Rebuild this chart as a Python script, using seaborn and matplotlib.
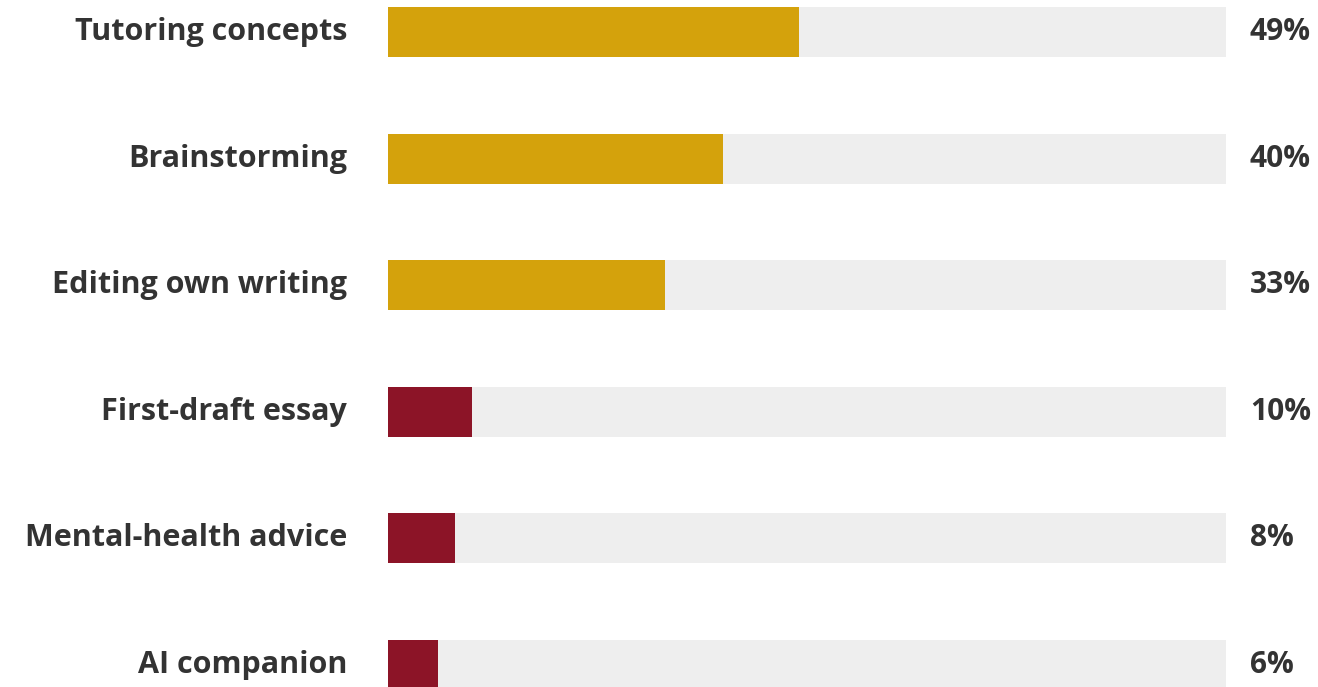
import matplotlib
matplotlib.use("Agg")
import matplotlib.pyplot as plt
import seaborn as sns
import pandas as pd

categories = ["Tutoring concepts", "Brainstorming", "Editing own writing",
              "First-draft essay", "Mental-health advice", "AI companion"]
values = [49, 40, 33, 10, 8, 6]
groups = ["high", "high", "high", "low", "low", "low"]
track_max = [100] * 6

sns.set_theme(style="white")
plt.rcParams['font.family'] = ['Open Sans', 'DejaVu Sans']

df = pd.DataFrame({"cat": categories, "val": values, "grp": groups, "track": track_max})

W, H = 1318, 687
fig = plt.figure(figsize=(W / 100, H / 100), dpi=100)
x0, x1 = 388, 1226
ax = fig.add_axes([x0 / W, 0, (x1 - x0) / W, 1])

sns.barplot(data=df, y="cat", x="track", color="#EEEEEE", saturation=1, width=0.395,
            ax=ax, orient="h", linewidth=0)
sns.barplot(data=df, y="cat", x="val", hue="grp", palette={"high": "#D4A20C", "low": "#8C1427"},
            saturation=1, width=0.395, ax=ax, orient="h", legend=False, dodge=False, linewidth=0)

step = 126.6
ax.set_ylim((H - 32) / step, -32 / step)
ax.set_xlim(0, 100)
ax.set_xlabel("")
ax.set_ylabel("")
ax.set_xticks([])
ax.set_yticks([])
for s in ax.spines.values():
    s.set_visible(False)

for i, (c, v) in enumerate(zip(categories, values)):
    ax.annotate(c, xy=(0, i), xycoords=("axes fraction", "data"), xytext=(-41, 0),
                textcoords="offset pixels", ha="right", va="center",
                fontsize=22, fontweight="bold", color="#333333")
    ax.annotate(f"{v}%", xy=(1, i), xycoords=("axes fraction", "data"), xytext=(24, 0),
                textcoords="offset pixels", ha="left", va="center",
                fontsize=21.5, fontweight="bold", color="#333333")

fig.savefig("out.png", dpi=100)
